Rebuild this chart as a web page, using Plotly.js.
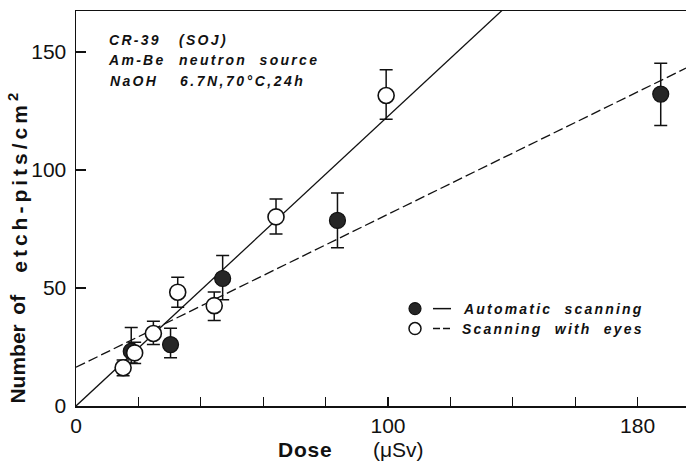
<!DOCTYPE html>
<html><head><meta charset="utf-8">
<script src="https://cdn.plot.ly/plotly-3.0.1.min.js"></script>
<style>
html,body{margin:0;padding:0;background:#fff;overflow:hidden}
</style>
</head><body><div id="chart" style="width:686px;height:461px"></div>
<script>
// Open circles: "Scanning with eyes"
const eyesDose  = [15.1, 18.8, 24.8, 32.6, 44.3, 64.1, 99.4];
const eyesPits  = [16.2, 22.5, 30.7, 48.2, 42.5, 80.1, 131.5];
const eyesErrUp = [3.3, 4.5, 5.2, 6.3, 5.8, 7.6, 10.9];
const eyesErrDn = [3.4, 4.5, 4.7, 6.4, 6.3, 7.2, 10.0];
// Filled circles: "Automatic scanning"
const autoDose  = [17.7, 30.3, 47.0, 83.8, 187.4];
const autoPits  = [23.2, 26.0, 54.0, 78.6, 132.1];
const autoErrUp = [10.0, 6.9, 9.7, 11.6, 13.1];
const autoErrDn = [5.0, 5.6, 9.0, 11.6, 13.3];
// Fitted lines
const fitDose   = [0, 195.5];
const fitSolid  = [0, 239.9];
const fitDashed = [16.4, 143.1];
// Axis ticks
const xTickVals = [0, 100, 180];
const xTickText = ['0', '100', '180'];
const xMinorStep = 20;
const yTickVals = [0, 50, 100, 150];
const yTickText = ['0', '50', '100', '150'];

const L = 76, R = 686, T = 11, B = 406.5;
const px = x => (x - L) / (R - L);
const py = y => (B - y) / (B - T);

const FAM = 'Liberation Sans, Arial, sans-serif';
const textFont = {family: FAM, size: 14, color: '#111', weight: 'bold', style: 'italic'};
const sp = (t, s) => '<span style="letter-spacing:' + s + 'px">' + t + '</span>';

const traces = [
  {x: fitDose, y: fitSolid, mode: 'lines', line: {color: '#111', width: 1.3}, hoverinfo: 'skip', showlegend: false},
  {x: fitDose, y: fitDashed, mode: 'lines', line: {color: '#111', width: 1.3, dash: '10px,4px'}, hoverinfo: 'skip', showlegend: false},
  {x: autoDose, y: autoPits, mode: 'markers', showlegend: false,
   error_y: {type: 'data', symmetric: false, array: autoErrUp, arrayminus: autoErrDn, color: '#111', thickness: 1.5, width: 6.5},
   marker: {size: 16, color: '#262626', line: {color: '#111', width: 1.2}}},
  {x: eyesDose, y: eyesPits, mode: 'markers', showlegend: false,
   error_y: {type: 'data', symmetric: false, array: eyesErrUp, arrayminus: eyesErrDn, color: '#111', thickness: 1.5, width: 6.5},
   marker: {size: 16, color: '#fff', line: {color: '#111', width: 1.6}}}
];

function ann(text, x, y, font, extra) {
  return Object.assign({text: text, xref: 'paper', yref: 'paper', x: px(x), y: py(y),
    xanchor: 'center', yanchor: 'middle', showarrow: false, font: font, borderpad: 0}, extra || {});
}

const titleBold = {family: FAM, size: 21, color: '#111', weight: 'bold'};
const annotations = [
  ann(sp('CR-39', 2.3), 135, 40, textFont),
  ann(sp('(SOJ)', 2.3), 203.5, 40, textFont),
  ann(sp('Am-Be', 2.3), 136.5, 60, textFont),
  ann(sp('neutron  source', 2.3), 248.5, 60, textFont),
  ann(sp('NaOH', 2.3), 133.5, 81, textFont),
  ann(sp('6.7N,70°C,24h', 2.5), 242.5, 81, textFont),
  ann(sp('Automatic  scanning', 2.2), 552.7, 309, textFont),
  ann(sp('Scanning  with  eyes', 2.2), 552.7, 329, textFont),
  ann(sp('Dose', 0.8), 305.5, 450, titleBold),
  ann('(μSv)', 398, 450, {family: FAM, size: 21, color: '#111'}),
  ann('Number', 18, 365, titleBold, {textangle: -90}),
  ann('of', 18, 305, titleBold, {textangle: -90}),
  ann(sp('etch-pits/cm', 4) + '<sup>2</sup>', 18, 183, titleBold, {textangle: -90})
];

const shapes = [
  {type: 'circle', xref: 'paper', yref: 'paper', xsizemode: 'pixel', ysizemode: 'pixel',
   xanchor: px(415), yanchor: py(309), x0: -6, x1: 6, y0: -6, y1: 6,
   fillcolor: '#262626', line: {color: '#111', width: 1.2}},
  {type: 'circle', xref: 'paper', yref: 'paper', xsizemode: 'pixel', ysizemode: 'pixel',
   xanchor: px(415), yanchor: py(329), x0: -6, x1: 6, y0: -6, y1: 6,
   fillcolor: '#fff', line: {color: '#111', width: 1.5}},
  {type: 'line', xref: 'paper', yref: 'paper', x0: px(433), x1: px(451), y0: py(309), y1: py(309),
   line: {color: '#111', width: 1.5}},
  {type: 'line', xref: 'paper', yref: 'paper', x0: px(433), x1: px(451), y0: py(329), y1: py(329),
   line: {color: '#111', width: 1.5, dash: '7px,3px'}}
];

const layout = {
  width: 686, height: 461,
  margin: {l: L, r: 686 - R, t: T, b: 461 - B},
  paper_bgcolor: '#fff', plot_bgcolor: '#fff',
  showlegend: false,
  xaxis: {range: [0, 195.5], tickmode: 'array', tickvals: xTickVals, ticktext: xTickText, ticks: 'inside', ticklen: 9,
    tickwidth: 1.3, tickcolor: '#111', showline: true, linecolor: '#111', linewidth: 1.5, mirror: true,
    minor: {tick0: 0, dtick: xMinorStep, ticks: 'inside', ticklen: 9, tickwidth: 1.3, tickcolor: '#111', showgrid: false},
    showgrid: false, zeroline: false, ticklabelstandoff: 0,
    tickfont: {family: FAM, size: 21, color: '#111'}},
  yaxis: {range: [0, 167.3], tickmode: 'array', tickvals: yTickVals, ticktext: yTickText, ticks: 'inside', ticklen: 10,
    tickwidth: 1.3, tickcolor: '#111', showline: true, linecolor: '#111', linewidth: 1.5,
    showgrid: false, zeroline: false, ticklabelstandoff: 4,
    tickfont: {family: FAM, size: 21, color: '#111'}},
  annotations: annotations,
  shapes: shapes
};

Plotly.newPlot('chart', traces, layout, {staticPlot: true, displayModeBar: false});
</script>
</body></html>
